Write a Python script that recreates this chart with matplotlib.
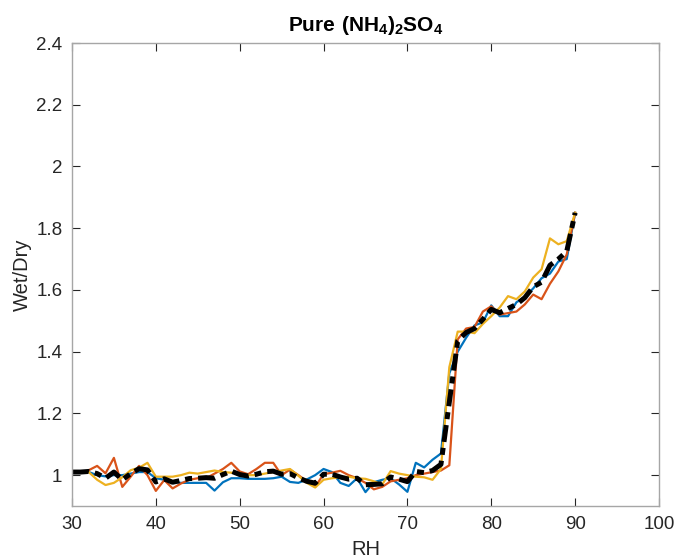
import matplotlib

matplotlib.use("Agg")

import matplotlib.pyplot as plt
from matplotlib.ticker import FuncFormatter

plt.rcParams["font.family"] = ["Liberation Sans", "DejaVu Sans"]
plt.rcParams["mathtext.fontset"] = "custom"
plt.rcParams["mathtext.rm"] = "Liberation Sans"
plt.rcParams["mathtext.bf"] = "Liberation Sans:bold"

# RH grid of the three runs (32..90) and of the mean curve (30..90)
rh_runs = [32, 33, 34, 35, 36, 37, 38, 39, 40, 41, 42, 43, 44, 45, 46, 47, 48, 49,
           50, 51, 52, 53, 54, 55, 56, 57, 58, 59, 60, 61, 62, 63, 64, 65, 66, 67,
           68, 69, 70, 71, 72, 73, 74, 75, 76, 77, 78, 79, 80, 81, 82, 83, 84, 85,
           86, 87, 88, 89, 90]
rh_mean = [30, 31] + rh_runs

blue = [1.010, 1.000, 0.996, 1.000, 1.000, 1.005, 1.010, 1.010, 0.990, 0.985,
        0.978, 0.975, 0.975, 0.975, 0.975, 0.950, 0.977, 0.990, 0.990, 0.988,
        0.988, 0.988, 0.990, 0.995, 0.978, 0.975, 0.986, 1.000, 1.020, 1.010,
        0.975, 0.965, 0.990, 0.945, 0.977, 0.985, 0.990, 0.970, 0.946, 1.040,
        1.025, 1.050, 1.070, 1.330, 1.400, 1.445, 1.485, 1.495, 1.550, 1.515,
        1.515, 1.560, 1.577, 1.605, 1.638, 1.653, 1.692, 1.700, 1.850]

orange = [1.016, 1.030, 1.006, 1.056, 0.962, 0.995, 1.030, 1.000, 0.949, 0.984,
          0.957, 0.973, 0.985, 0.990, 0.990, 1.005, 1.020, 1.040, 1.012, 1.003,
          1.020, 1.040, 1.040, 1.000, 1.018, 1.000, 0.980, 0.962, 1.003, 1.008,
          1.014, 1.000, 0.990, 0.975, 0.954, 0.962, 0.980, 0.985, 0.990, 1.000,
          1.005, 1.010, 1.015, 1.032, 1.440, 1.475, 1.480, 1.530, 1.547, 1.520,
          1.525, 1.530, 1.553, 1.585, 1.570, 1.620, 1.660, 1.715, 1.850]

yellow = [1.010, 0.985, 0.968, 0.975, 0.993, 1.016, 1.024, 1.040, 0.995, 0.995,
          0.995, 1.000, 1.008, 1.005, 1.010, 1.015, 1.010, 1.008, 1.005, 1.000,
          1.000, 1.005, 1.010, 1.015, 1.020, 0.998, 0.975, 0.960, 0.985, 0.990,
          0.993, 0.995, 0.990, 0.988, 0.980, 0.970, 1.013, 1.005, 1.000, 0.995,
          0.993, 0.985, 1.020, 1.350, 1.465, 1.465, 1.460, 1.490, 1.515, 1.543,
          1.580, 1.570, 1.595, 1.640, 1.667, 1.767, 1.748, 1.758, 1.850]

mean = [1.010, 1.010, 1.012, 1.005, 0.990, 1.010, 0.985, 1.005, 1.021, 1.017,
        0.978, 0.988, 0.977, 0.983, 0.989, 0.990, 0.992, 0.990, 1.002, 1.013,
        1.002, 0.997, 1.003, 1.011, 1.013, 1.003, 1.005, 0.991, 0.980, 0.974,
        1.003, 1.003, 0.994, 0.987, 0.990, 0.969, 0.970, 0.972, 0.994, 0.987,
        0.979, 1.012, 1.008, 1.015, 1.035, 1.237, 1.435, 1.462, 1.475, 1.505,
        1.537, 1.526, 1.540, 1.553, 1.575, 1.610, 1.625, 1.680, 1.700, 1.725,
        1.850]

x_ticks = [30, 40, 50, 60, 70, 80, 90, 100]
y_ticks = [1, 1.2, 1.4, 1.6, 1.8, 2, 2.2, 2.4]

fig = plt.figure(figsize=(6.74, 5.6), dpi=100)
ax = fig.add_axes([0.1068, 0.0964, 0.8709, 0.8268])

ax.plot(rh_runs, blue, color="#0072BD", lw=1.6)
ax.plot(rh_runs, orange, color="#D95319", lw=1.6)
ax.plot(rh_runs, yellow, color="#EDB120", lw=1.6)
ax.plot(rh_mean, mean, color="black", lw=3.6, linestyle=(0, (3.4, 1.2, 1.4, 1.2)))

ax.set_xlim(30, 100)
ax.set_ylim(0.9, 2.4)
ax.set_xticks(x_ticks)
ax.set_yticks(y_ticks)
ax.yaxis.set_major_formatter(FuncFormatter(lambda v, _: f"{v:g}"))

for side in ax.spines.values():
    side.set_color("#a6a6a6")
    side.set_linewidth(1.0)
ax.tick_params(direction="in", length=6, width=0.8, color="#262626",
               labelcolor="#262626", labelsize=13.5, top=True, right=True, pad=7)

ax.set_xlabel("RH", fontsize=14.5, color="#262626", labelpad=5)
ax.set_ylabel("Wet/Dry", fontsize=14.5, color="#262626", labelpad=3)
ax.set_title(r"$\mathbf{Pure\ (NH_4)_2SO_4}$", fontsize=15, color="black", pad=9)

fig.savefig("out.png", dpi=100)
